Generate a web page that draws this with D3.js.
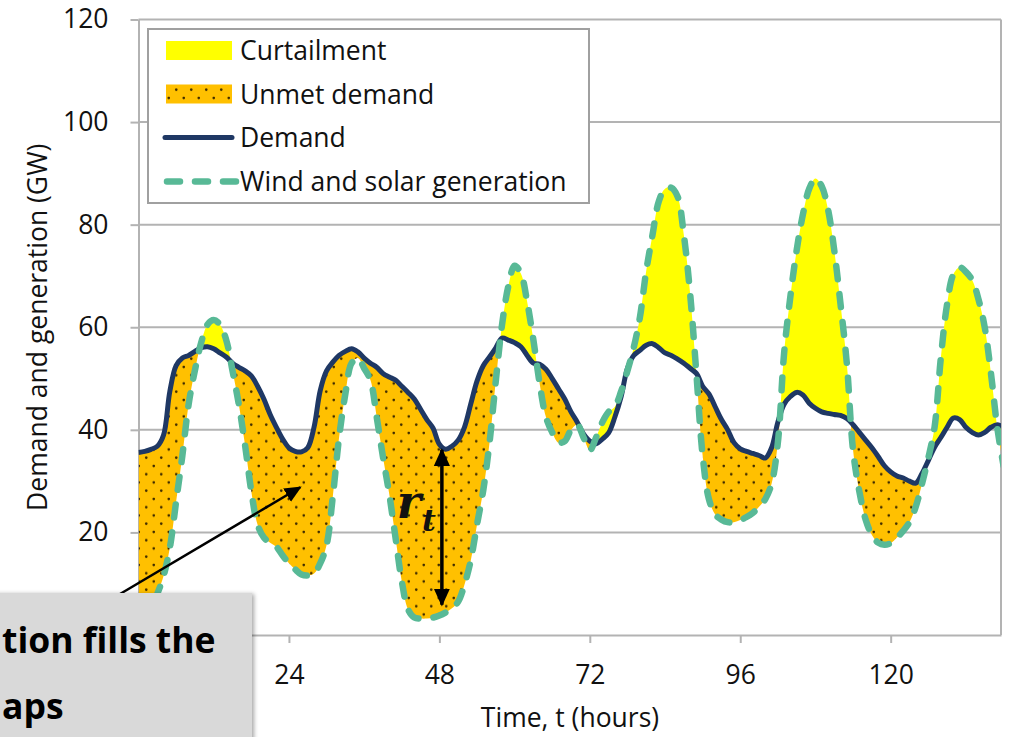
<!DOCTYPE html>
<html>
<head>
<meta charset="utf-8">
<script src="https://cdn.jsdelivr.net/npm/d3@7"></script>
<style>
  html, body { margin: 0; padding: 0; background: #fff; }
  svg { display: block; font-family: "Open Sans", sans-serif; }
</style>
</head>
<body>
<div id="chart"></div>
<script>
// hourly values (GW)
const hours = d3.range(0, 139);
const demand = [
  35.6, 35.8, 36.2, 36.8, 39, 47.5, 52.5, 54, 54.5, 55.3,
  56, 56.2, 55.8, 55, 54.2, 53, 52.2, 51.5, 50.5, 48.5,
  46, 43, 40.5, 38.2, 36.5, 35.8, 35.7, 36.5, 40.5, 47.7,
  51.5, 53.2, 54.5, 55.3, 55.8, 55.2, 54, 53, 52.2, 51,
  50.3, 49.7, 48.5, 47.3, 46, 44, 42, 40.3, 37.2, 36.2,
  36.8, 38, 40.5, 45, 49.5, 52.5, 54.2, 56, 57.9, 57.5,
  57, 56.2, 54.5, 53, 52.8, 51.8, 50, 48, 46, 43.5,
  41.5, 39.2, 37.8, 37.3, 38.2, 39.4, 42.5, 46.5, 52, 54.5,
  55.5, 56.5, 56.8, 56, 55, 54.5, 53.8, 53, 52, 51,
  48.5, 47, 44.5, 42, 40, 37.5, 36.3, 35.8, 35.4, 35,
  34.5, 36.5, 41.5, 45, 46.5, 47.3, 46.8, 45.2, 44.2, 43.5,
  43.2, 43, 42.8, 42.2, 41, 39.5, 38, 36.5, 34.8, 33,
  31.8, 31, 30.6, 30, 29.6, 31.5, 34, 36.6, 38.5, 40.5,
  42.3, 42, 40.5, 39.5, 39, 39.5, 40.5, 41, 40.5
];
const generation = [
  3, 3.5, 5, 8, 11.5, 17, 26, 35, 45, 51.6,
  57, 60.5, 61.4, 60.5, 57.5, 51.5, 45, 37, 28, 21.5,
  19, 18, 17.2, 15.5, 14, 12.8, 11.8, 11.6, 12, 14,
  17.5, 27, 38.5, 47, 53, 54, 52, 49.7, 42.5, 34.7,
  27.5, 19, 10.5, 5, 3.4, 3.2, 3.2, 3.4, 3.8, 4.4,
  5.2, 6.5, 9.8, 14.5, 21.5, 28.2, 37.5, 49.5, 60.5, 68,
  72, 70.5, 65, 57.5, 49, 42.5, 39.5, 37.5, 37.8, 40,
  41, 38.5, 36, 38.5, 41.5, 43.5, 44.5, 47.5, 51.5, 56,
  62, 71, 78, 84.5, 87, 87.2, 85.5, 78, 66.6, 51,
  35, 26.5, 23.5, 22.5, 22, 22, 22.4, 23, 23.8, 25,
  26.5, 29.5, 37.5, 55, 66, 75, 82, 87, 89, 87.5,
  83, 75, 64.5, 53, 36, 28, 22.5, 19.5, 18, 17.6,
  17.9, 19, 20.3, 22, 25, 29.5, 34.5, 40.5, 54, 64.5,
  70.3, 71.7, 70.8, 69.2, 65.5, 60, 51, 40.5, 33
];
// the 0 ticks sit under the callout box in the original, so they are left out
const xTicks = [24, 48, 72, 96, 120];
const yTicks = [20, 40, 60, 80, 100, 120];
const legendLabels = ["Curtailment", "Unmet demand", "Demand", "Wind and solar generation"];
const boxLines = ["tion fills the", "aps"];

const width = 1010, height = 737;
const fontSize = 26.5;
const colors = {
  curtail: "#ffff00",
  unmet: "#ffc000",
  demand: "#1f3864",
  gen: "#58b996",
  grid: "#b3b3b3",
  text: "#111"
};

const data = hours.map((h, i) => ({h, d: demand[i], g: generation[i]}));

const x = d3.scaleLinear().domain([0, 137.6]).range([138.5, 1001]);
const y = d3.scaleLinear().domain([0, 120]).range([635, 19.5]);

const svg = d3.select("#chart").append("svg")
    .attr("width", width)
    .attr("height", height)
    .attr("viewBox", [0, 0, width, height]);

const defs = svg.append("defs");

const pat = defs.append("pattern")
    .attr("id", "dots")
    .attr("patternUnits", "userSpaceOnUse")
    .attr("width", 15)
    .attr("height", 16.5);
pat.append("rect").attr("width", 15).attr("height", 16.5).attr("fill", colors.unmet);
pat.append("circle").attr("cx", 3.75).attr("cy", 4).attr("r", 1.3).attr("fill", "#3d2a00");
pat.append("circle").attr("cx", 11.25).attr("cy", 12.25).attr("r", 1.3).attr("fill", "#3d2a00");

defs.append("clipPath").attr("id", "plot")
  .append("rect")
    .attr("x", x(0)).attr("y", y(120))
    .attr("width", x.range()[1] - x(0))
    .attr("height", y(0) - y(120));

const curve = d3.curveCatmullRom.alpha(0.5);

defs.append("clipPath").attr("id", "aboveDemand")
  .append("path")
    .attr("d", d3.area().curve(curve).x(d => x(d.h)).y0(0).y1(d => y(d.d))(data));
defs.append("clipPath").attr("id", "belowDemand")
  .append("path")
    .attr("d", d3.area().curve(curve).x(d => x(d.h)).y0(height).y1(d => y(d.d))(data));

const shadow = defs.append("filter").attr("id", "shadow")
    .attr("x", "-10%").attr("y", "-10%").attr("width", "120%").attr("height", "130%");
shadow.append("feDropShadow")
    .attr("dx", 2).attr("dy", 1).attr("stdDeviation", 2)
    .attr("flood-color", "#000").attr("flood-opacity", 0.35);

const arrowHead = (id, size) => defs.append("marker")
    .attr("id", id)
    .attr("viewBox", "0 0 10 10")
    .attr("refX", 9).attr("refY", 5)
    .attr("markerUnits", "userSpaceOnUse")
    .attr("markerWidth", size).attr("markerHeight", size)
    .attr("orient", "auto-start-reverse")
  .append("path")
    .attr("d", "M0,0.5 L10,5 L0,9.5 Z")
    .attr("fill", "#000");
arrowHead("arrowSmall", 17);
arrowHead("arrowBig", 18);

// gridlines
svg.append("g")
  .selectAll("line")
  .data(yTicks)
  .join("line")
    .attr("x1", x(0)).attr("x2", x.range()[1])
    .attr("y1", d => y(d)).attr("y2", d => y(d))
    .attr("stroke", colors.grid)
    .attr("stroke-width", 2);

// right border of plot
svg.append("line")
    .attr("x1", x.range()[1]).attr("x2", x.range()[1])
    .attr("y1", y(120)).attr("y2", y(0))
    .attr("stroke", colors.grid)
    .attr("stroke-width", 2);

// axes
const yAxis = d3.axisLeft(y).tickValues(yTicks).tickSize(8).tickPadding(22).tickSizeOuter(0);
const xAxis = d3.axisBottom(x).tickValues(xTicks).tickSize(8).tickPadding(22).tickSizeOuter(0);

svg.append("g")
    .attr("transform", `translate(${x(0)},0)`)
    .call(yAxis)
    .call(g => g.select(".domain").attr("stroke", colors.grid).attr("stroke-width", 2))
    .call(g => g.selectAll(".tick line").attr("stroke", colors.grid).attr("stroke-width", 2))
    .call(g => g.selectAll(".tick text")
        .attr("font-size", fontSize).attr("font-family", "Open Sans").attr("fill", colors.text));

svg.append("g")
    .attr("transform", `translate(0,${y(0)})`)
    .call(xAxis)
    .call(g => g.select(".domain").attr("stroke", colors.grid).attr("stroke-width", 2))
    .call(g => g.selectAll(".tick line").attr("stroke", colors.grid).attr("stroke-width", 2))
    .call(g => g.selectAll(".tick text")
        .attr("font-size", fontSize).attr("font-family", "Open Sans").attr("fill", colors.text));

// axis titles
svg.append("text")
    .attr("transform", `translate(47,${(y(0) + y(120)) / 2}) rotate(-90)`)
    .attr("text-anchor", "middle")
    .attr("font-size", fontSize)
    .attr("fill", colors.text)
    .text("Demand and generation (GW)");

svg.append("text")
    .attr("x", 570)
    .attr("y", 727)
    .attr("text-anchor", "middle")
    .attr("font-size", fontSize)
    .attr("fill", colors.text)
    .text("Time, t (hours)");

// fills and lines
const plot = svg.append("g").attr("clip-path", "url(#plot)");

const band = d3.area().curve(curve)
    .x(d => x(d.h))
    .y0(d => y(d.d))
    .y1(d => y(d.g));

plot.append("g").attr("clip-path", "url(#aboveDemand)")
  .append("path")
    .attr("d", band(data))
    .attr("fill", colors.curtail);

plot.append("g").attr("clip-path", "url(#belowDemand)")
  .append("path")
    .attr("d", band(data))
    .attr("fill", "url(#dots)");

plot.append("path")
    .attr("d", d3.line().curve(curve).x(d => x(d.h)).y(d => y(d.d))(data))
    .attr("fill", "none")
    .attr("stroke", colors.demand)
    .attr("stroke-width", 5)
    .attr("stroke-linejoin", "round");

plot.append("path")
    .attr("d", d3.line().curve(curve).x(d => x(d.h)).y(d => y(d.g))(data))
    .attr("fill", "none")
    .attr("stroke", colors.gen)
    .attr("stroke-width", 6.5)
    .attr("stroke-linecap", "round")
    .attr("stroke-dasharray", "13 15");

// legend
const legend = svg.append("g");
legend.append("rect")
    .attr("x", 148).attr("y", 29)
    .attr("width", 441).attr("height", 174)
    .attr("fill", "#fff")
    .attr("stroke", "#a0a0a0")
    .attr("stroke-width", 2);

const rowY = [50.5, 94, 137.5, 181.5];
const rows = legend.selectAll("g.item")
  .data(legendLabels)
  .join("g")
    .attr("class", "item")
    .attr("transform", (d, i) => `translate(0,${rowY[i]})`);

rows.filter((d, i) => i === 0).append("rect")
    .attr("x", 166).attr("y", -9.5).attr("width", 66).attr("height", 19)
    .attr("fill", colors.curtail);
rows.filter((d, i) => i === 1).append("rect")
    .attr("x", 166).attr("y", -9.5).attr("width", 66).attr("height", 19)
    .attr("fill", "url(#dots)");
rows.filter((d, i) => i === 2).append("line")
    .attr("x1", 165).attr("x2", 232)
    .attr("stroke", colors.demand).attr("stroke-width", 5).attr("stroke-linecap", "round");
rows.filter((d, i) => i === 3).append("line")
    .attr("x1", 167).attr("x2", 236)
    .attr("stroke", colors.gen).attr("stroke-width", 6.5).attr("stroke-linecap", "round")
    .attr("stroke-dasharray", "13 15");

rows.append("text")
    .attr("x", 240)
    .attr("dy", "0.36em")
    .attr("font-size", fontSize)
    .attr("fill", colors.text)
    .text(d => d);

// r_t arrow between demand and generation
const rHour = 48.4;
svg.append("line")
    .attr("x1", x(rHour)).attr("x2", x(rHour))
    .attr("y1", y(36.1)).attr("y2", y(5.9))
    .attr("stroke", "#000")
    .attr("stroke-width", 3.5)
    .attr("marker-start", "url(#arrowBig)")
    .attr("marker-end", "url(#arrowBig)");

const rLabel = svg.append("text")
    .attr("x", x(41.2))
    .attr("y", y(22.8))
    .attr("font-family", "DejaVu Serif")
    .attr("font-style", "italic")
    .attr("font-weight", "bold")
    .attr("font-size", 46)
    .attr("fill", "#111");
rLabel.append("tspan").text("r");
rLabel.append("tspan").attr("font-size", 30).attr("dy", 13).attr("dx", 1).text("t");

// annotation arrow and callout box
svg.append("line")
    .attr("x1", x(-2.95)).attr("y1", y(8))
    .attr("x2", x(25.8)).attr("y2", y(28.8))
    .attr("stroke", "#000")
    .attr("stroke-width", 2.5)
    .attr("marker-end", "url(#arrowSmall)");

svg.append("rect")
    .attr("x", -10).attr("y", 593)
    .attr("width", 262).attr("height", 170)
    .attr("fill", "#d9d9d9")
    .attr("filter", "url(#shadow)");

svg.append("g")
  .selectAll("text")
  .data(boxLines)
  .join("text")
    .attr("x", 2)
    .attr("y", (d, i) => 653 + i * 66)
    .attr("font-family", "Open Sans")
    .attr("font-weight", "bold")
    .attr("font-size", 35.5)
    .attr("fill", "#000")
    .text(d => d);
</script>
</body>
</html>
